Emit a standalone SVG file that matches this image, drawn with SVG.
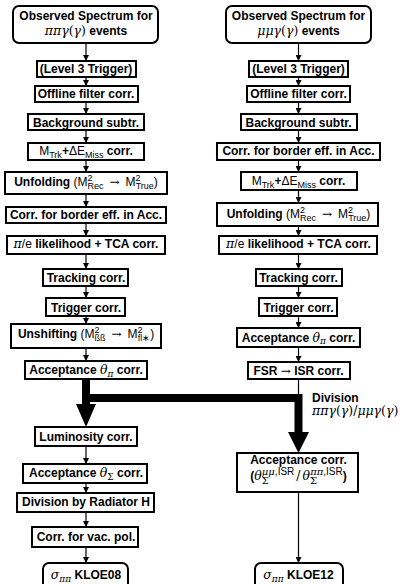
<svg xmlns="http://www.w3.org/2000/svg" width="407" height="584" viewBox="0 0 407 584">
<style>
.box{fill:#fff;stroke:#000;stroke-width:2}
.t{font-family:"Liberation Sans",Arial,sans-serif;font-weight:bold;font-size:12px;fill:#000;text-anchor:middle}
.l{font-family:"Liberation Sans",Arial,sans-serif;font-weight:bold;font-size:12px;fill:#000}
.r{font-weight:normal}
.m{font-family:"DejaVu Serif",serif;font-style:italic;font-weight:normal;font-size:12.5px}
.mr{font-family:"DejaVu Serif",serif;font-style:normal;font-weight:normal;font-size:12.5px}
.ar2{font-family:"DejaVu Serif",serif;font-style:normal;font-weight:normal;font-size:12px}
.s{font-size:9px}
.s2{font-size:10px}
.ar{stroke:#000;stroke-width:1.2;fill:none;marker-end:url(#ah)}
.thin{stroke:#000;stroke-width:1.2;fill:none}
.thick{stroke:#000;stroke-width:8;fill:none}
</style>
<defs>
<marker id="ah" markerUnits="userSpaceOnUse" markerWidth="6" markerHeight="6" refX="6" refY="3" orient="auto">
<path d="M0,0 L6,3 L0,6 z" fill="#000"/>
</marker>
</defs>

<g id="connectors">
<path class="ar" d="M86,43 V61"/>
<path class="ar" d="M86,77 V86"/>
<path class="ar" d="M86,102 V114"/>
<path class="ar" d="M86,130 V143"/>
<path class="ar" d="M86,160 V172"/>
<path class="ar" d="M86,194 V207"/>
<path class="ar" d="M86,223 V236"/>
<path class="ar" d="M86,254 V269"/>
<path class="ar" d="M86,286 V298"/>
<path class="ar" d="M86,316 V324"/>
<path class="ar" d="M86,348 V361"/>
<path class="ar" d="M86,446 V464"/>
<path class="ar" d="M86,483 V493"/>
<path class="ar" d="M86,512 V527"/>
<path class="ar" d="M86,547 V563"/>

<path class="ar" d="M298.5,43 V61"/>
<path class="ar" d="M298.5,77 V86"/>
<path class="ar" d="M298.5,102 V114"/>
<path class="ar" d="M298.5,130 V143"/>
<path class="ar" d="M298.5,160 V172"/>
<path class="ar" d="M298.5,190 V203"/>
<path class="ar" d="M298.5,226 V236"/>
<path class="ar" d="M298.5,254 V269"/>
<path class="ar" d="M298.5,286 V298"/>
<path class="ar" d="M298.5,316 V328"/>
<path class="ar" d="M298.5,347 V362"/>
<path class="thin" d="M298.5,379 V395"/>
<path class="ar" d="M298.5,492 V563"/>

<path class="thick" d="M86,379 V398 H298.5 M86,394 V405"/>
<path class="thick" d="M298.5,394 V433"/>
<polygon points="76,404 96,404 86,427" fill="#000"/>
<polygon points="288,432 309,432 298.5,453" fill="#000"/>
<text class="l" x="312" y="402">Division</text>
<text class="l" x="312" y="415"><tspan class="m">ππγ</tspan><tspan class="mr">(</tspan><tspan class="m">γ</tspan><tspan class="mr">)/</tspan><tspan class="m">μμγ</tspan><tspan class="mr">(</tspan><tspan class="m">γ</tspan><tspan class="mr">)</tspan></text>
</g>

<g id="L1"><rect class="box" x="13" y="6" width="145" height="37" rx="6"/>
<text class="t" x="86" y="20">Observed Spectrum for</text>
<text class="t" x="86" y="35"><tspan class="m">ππγ</tspan><tspan class="mr">(</tspan><tspan class="m">γ</tspan><tspan class="mr">)</tspan> events</text></g>
<g id="L2"><rect class="box" x="37" y="61" width="99" height="16"/><text class="t" x="86" y="73">(Level 3 Trigger)</text></g>
<g id="L3"><rect class="box" x="35" y="86" width="103" height="16"/><text class="t" x="86" y="98">Offline filter corr.</text></g>
<g id="L4"><rect class="box" x="28" y="114" width="116" height="16"/><text class="t" x="86" y="126.5">Background subtr.</text></g>
<g id="L5"><rect class="box" x="28" y="143" width="116" height="17"/><text class="t" x="86" y="155"><tspan class="r">M</tspan><tspan class="r s" dy="2.5">Trk</tspan><tspan dy="-2.5">+</tspan><tspan class="r">ΔE</tspan><tspan class="r s" dy="2.5">Miss</tspan><tspan dy="-2.5"> corr.</tspan></text></g>
<g id="L6"><rect class="box" x="5" y="172" width="162" height="22"/><text class="t" x="86" y="186">Unfolding <tspan class="r">(M</tspan><tspan class="r s" dy="-5">2</tspan><tspan class="r s" dx="-5" dy="8">Rec</tspan><tspan class="ar2" dx="6" dy="-3">→</tspan><tspan class="r" dx="6">M</tspan><tspan class="r s" dy="-5">2</tspan><tspan class="r s" dx="-5" dy="8">True</tspan><tspan class="r" dy="-3">)</tspan></text></g>
<g id="L7"><rect class="box" x="6" y="207" width="160" height="16"/><text class="t" x="86" y="219">Corr. for border eff. in Acc.</text></g>
<g id="L8"><rect class="box" x="7" y="236" width="158" height="18"/><text class="t" x="86" y="248"><tspan class="m">π</tspan><tspan class="r">/e</tspan> likelihood + TCA corr.</text></g>
<g id="L9"><rect class="box" x="43" y="269" width="85" height="17"/><text class="t" x="86" y="281.5">Tracking corr.</text></g>
<g id="L10"><rect class="box" x="46" y="298" width="79" height="18"/><text class="t" x="86" y="311.5">Trigger corr.</text></g>
<g id="L11"><rect class="box" x="11" y="324" width="150" height="24"/><text class="t" x="86" y="337.5">Unshifting <tspan class="r">(M</tspan><tspan class="r s" dy="-5">2</tspan><tspan class="r s" dx="-5" dy="8">ßß</tspan><tspan class="ar2" dx="6" dy="-3">→</tspan><tspan class="r" dx="6">M</tspan><tspan class="r s" dy="-5">2</tspan><tspan class="r s" dx="-5" dy="8">fl∗</tspan><tspan class="r" dy="-3">)</tspan></text></g>
<g id="L12"><rect class="box" x="25" y="361" width="122" height="18"/><text class="t" x="86" y="374">Acceptance <tspan class="m">θ</tspan><tspan class="m s" dy="2.5">π</tspan><tspan dy="-2.5"> corr.</tspan></text></g>
<g id="L13"><rect class="box" x="35" y="427" width="102" height="19"/><text class="t" x="86" y="440.5">Luminosity corr.</text></g>
<g id="L14"><rect class="box" x="23" y="464" width="124" height="19"/><text class="t" x="86" y="477">Acceptance <tspan class="m">θ</tspan><tspan class="mr s" dy="2.5">Σ</tspan><tspan dy="-2.5"> corr.</tspan></text></g>
<g id="L15"><rect class="box" x="17" y="493" width="137" height="19"/><text class="t" x="86" y="506">Division by Radiator H</text></g>
<g id="L16"><rect class="box" x="32" y="527" width="106" height="20"/><text class="t" x="86" y="541">Corr. for vac. pol.</text></g>
<g id="L17"><rect class="box" x="43" y="563" width="85" height="28" rx="6"/><text class="t" x="86" y="579"><tspan class="m">σ</tspan><tspan class="m s" dy="2.5">ππ</tspan><tspan dy="-2.5"> KLOE08</tspan></text></g>

<g id="R1"><rect class="box" x="226" y="6" width="145" height="37" rx="6"/>
<text class="t" x="298.5" y="20">Observed Spectrum for</text>
<text class="t" x="298.5" y="35"><tspan class="m">μμγ</tspan><tspan class="mr">(</tspan><tspan class="m">γ</tspan><tspan class="mr">)</tspan> events</text></g>
<g id="R2"><rect class="box" x="249" y="61" width="99" height="16"/><text class="t" x="298.5" y="73">(Level 3 Trigger)</text></g>
<g id="R3"><rect class="box" x="247" y="86" width="103" height="16"/><text class="t" x="298.5" y="98">Offline filter corr.</text></g>
<g id="R4"><rect class="box" x="241" y="114" width="116" height="16"/><text class="t" x="298.5" y="126.5">Background subtr.</text></g>
<g id="R5"><rect class="box" x="217" y="143" width="163" height="17"/><text class="t" x="298.5" y="155">Corr. for border eff. in Acc.</text></g>
<g id="R6"><rect class="box" x="241" y="172" width="116" height="18"/><text class="t" x="298.5" y="185"><tspan class="r">M</tspan><tspan class="r s" dy="2.5">Trk</tspan><tspan dy="-2.5">+</tspan><tspan class="r">ΔE</tspan><tspan class="r s" dy="2.5">Miss</tspan><tspan dy="-2.5"> corr.</tspan></text></g>
<g id="R7"><rect class="box" x="217" y="203" width="161" height="23"/><text class="t" x="298.5" y="218">Unfolding <tspan class="r">(M</tspan><tspan class="r s" dy="-5">2</tspan><tspan class="r s" dx="-5" dy="8">Rec</tspan><tspan class="ar2" dx="6" dy="-3">→</tspan><tspan class="r" dx="6">M</tspan><tspan class="r s" dy="-5">2</tspan><tspan class="r s" dx="-5" dy="8">True</tspan><tspan class="r" dy="-3">)</tspan></text></g>
<g id="R8"><rect class="box" x="219" y="236" width="158" height="18"/><text class="t" x="298.5" y="248"><tspan class="m">π</tspan><tspan class="r">/e</tspan> likelihood + TCA corr.</text></g>
<g id="R9"><rect class="box" x="256" y="269" width="86" height="17"/><text class="t" x="298.5" y="281.5">Tracking corr.</text></g>
<g id="R10"><rect class="box" x="259" y="298" width="78" height="18"/><text class="t" x="298.5" y="311.5">Trigger corr.</text></g>
<g id="R11"><rect class="box" x="237" y="328" width="123" height="19"/><text class="t" x="298.5" y="341.5">Acceptance <tspan class="m">θ</tspan><tspan class="m s" dy="2.5">π</tspan><tspan dy="-2.5"> corr.</tspan></text></g>
<g id="R12"><rect class="box" x="248" y="362" width="102" height="17"/><text class="t" x="298.5" y="375">FSR <tspan class="ar2">→</tspan> ISR corr.</text></g>
<g id="R13"><rect class="box" x="237" y="453" width="121" height="39"/>
<text class="t" x="298.5" y="464">Acceptance corr.</text>
<text class="t" x="298.5" y="480">(<tspan class="m">θ</tspan><tspan class="mr s2" dy="4">Σ</tspan><tspan class="m s2" dx="-7" dy="-9">μμ</tspan><tspan class="r s2">,ISR</tspan><tspan class="mr" dx="2" dy="5">/</tspan><tspan class="m" dx="2">θ</tspan><tspan class="mr s2" dy="4">Σ</tspan><tspan class="m s2" dx="-7" dy="-9">ππ</tspan><tspan class="r s2">,ISR</tspan><tspan dy="5">)</tspan></text></g>
<g id="R14"><rect class="box" x="255" y="563" width="88" height="28" rx="6"/><text class="t" x="298.5" y="579"><tspan class="m">σ</tspan><tspan class="m s" dy="2.5">ππ</tspan><tspan dy="-2.5"> KLOE12</tspan></text></g>
</svg>
